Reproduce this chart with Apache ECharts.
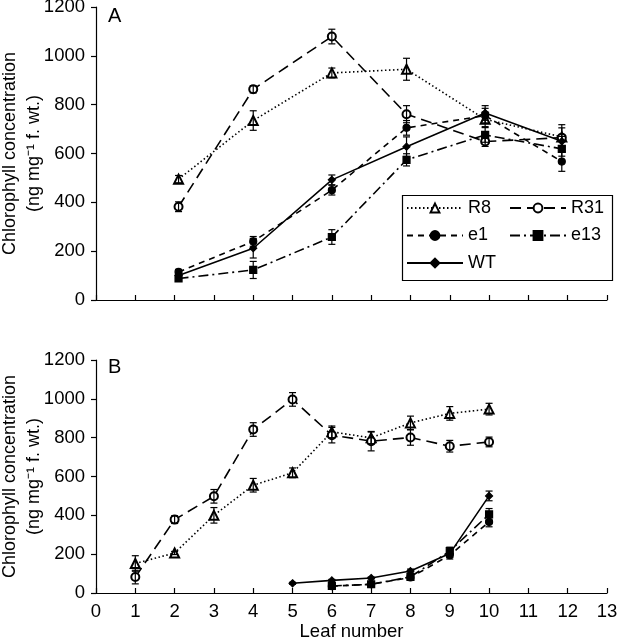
<!DOCTYPE html>
<html>
<head>
<meta charset="utf-8">
<script src="https://cdn.jsdelivr.net/npm/echarts@6/dist/echarts.min.js"></script>
<style>html,body{margin:0;padding:0;background:#fff;}#c{width:618px;height:639px;}</style>
</head>
<body>
<div id="c"></div>
<script>
// ---- Panel A data ----
var xA = [2.1, 4.0, 6.0, 7.9, 9.9, 11.85];
var aR8  = [495, 735, 930, 945, 740, 668];
var aR31 = [382, 863, 1079, 761, 649, 665];
var aE1  = [115, 240, 450, 705, 755, 567];
var aE13 = [88, 123, 258, 574, 676, 619];
var aWT  = [100, 212, 492, 628, 766, 650];
var aR8err  = [15, 40, 20, 45, 30, 50];
var aR31err = [20, 15, 30, 35, 20, 40];
var aE1err  = [10, 20, 20, 30, 30, 40];
var aE13err = [10, 35, 30, 25, 30, 30];
var aWTerr  = [10, 40, 20, 40, 30, 20];

// ---- Panel B data ----
var xB_R = [1, 2, 3, 4, 5, 6, 7, 8, 9, 10];
var bR8  = [152, 206, 400, 555, 619, 830, 799, 876, 925, 947];
var bR31 = [82, 378, 498, 842, 997, 813, 782, 801, 756, 778];
var bR8err  = [40, 8, 40, 35, 25, 30, 30, 35, 35, 30];
var bR31err = [35, 20, 35, 35, 35, 40, 50, 40, 30, 25];
var xB_WT = [5, 6, 7, 8, 9, 10];
var bWT  = [50, 65, 77, 113, 203, 500];
var bWTerr = [5, 5, 5, 10, 20, 25];
var xB_E = [6, 7, 8, 9, 10];
var bE13 = [36, 45, 83, 216, 405];
var bE1  = [35, 45, 80, 195, 366];
var bE13err = [10, 10, 10, 20, 30];
var bE1err  = [5, 5, 5, 20, 25];

var FONT = 'Liberation Sans, Arial, Helvetica, sans-serif';
var FS = 18.5;

function pairs(xs, ys){ return xs.map(function(x,i){ return [x, ys[i]]; }); }
function errs(xs, ys, es){ return xs.map(function(x,i){ return [x, ys[i]-es[i], ys[i]+es[i]]; }); }

var styles = {
  R8:  {dash:[1.5,2.5], symbol:'emptyTriangle', size:9},
  R31: {dash:[11,6], symbol:'emptyCircle', size:8},
  e1:  {dash:[6,5], symbol:'circle', size:7},
  e13: {dash:[10,4,2,4], symbol:'rect', size:7},
  WT:  {dash:'solid', symbol:'diamond', size:7}
};

function lineSeries(name, data, gi){
  var s = styles[name];
  return {
    type:'line', name:name, data:data, xAxisIndex:gi, yAxisIndex:gi,
    symbol:s.symbol, symbolSize:s.size, showAllSymbol:true,
    lineStyle:{color:'#000', width:1.6, type:s.dash},
    itemStyle:{color:'#000', borderColor:'#000', borderWidth:1.2},
    emphasis:{disabled:true}, animation:false, z:3
  };
}

function errSeries(data, gi){
  return {
    type:'custom', xAxisIndex:gi, yAxisIndex:gi, data:data, z:4, animation:false,
    silent:true,
    renderItem:function(params, api){
      var x = api.value(0), lo = api.value(1), hi = api.value(2);
      var p1 = api.coord([x, hi]), p2 = api.coord([x, lo]);
      var st = {stroke:'#000', lineWidth:1.2};
      return {type:'group', children:[
        {type:'line', shape:{x1:p1[0], y1:p1[1], x2:p2[0], y2:p2[1]}, style:st},
        {type:'line', shape:{x1:p1[0]-3.5, y1:p1[1], x2:p1[0]+3.5, y2:p1[1]}, style:st},
        {type:'line', shape:{x1:p2[0]-3.5, y1:p2[1], x2:p2[0]+3.5, y2:p2[1]}, style:st}
      ]};
    }
  };
}

function xAxis(gi, showLabels){
  return {
    type:'value', gridIndex:gi, min:0, max:13, interval:1,
    axisLine:{show:true, onZero:false, lineStyle:{color:'#000', width:1.2}},
    axisTick:{show:true, inside:true, length:5, lineStyle:{color:'#000', width:1.2}},
    axisLabel:{show:showLabels, color:'#000', fontSize:FS, fontFamily:FONT, margin:9},
    splitLine:{show:false},
    name: showLabels ? 'Leaf number' : '',
    nameLocation:'middle', nameGap:29, nameMoveOverlap:false,
    nameTextStyle:{color:'#000', fontSize:FS, fontFamily:FONT}
  };
}
function yAxis(gi){
  return {
    type:'value', gridIndex:gi, min:0, max:1200, interval:200,
    axisLine:{show:true, lineStyle:{color:'#000', width:1.2}},
    axisTick:{show:true, inside:false, length:5, lineStyle:{color:'#000', width:1.2}},
    axisLabel:{color:'#000', fontSize:FS, fontFamily:FONT, margin:11,
      formatter:function(v){ return String(v); }},
    splitLine:{show:false},
    name:'Chlorophyll concentration\n(ng mg\u207B\u00B9 f. wt.)',
    nameLocation:'middle', nameRotate:90, nameGap:50, nameMoveOverlap:false,
    nameTextStyle:{color:'#000', fontSize:18, fontFamily:FONT, lineHeight:24, align:'center'}
  };
}

var series = [
  lineSeries('R8', pairs(xA, aR8), 0),
  lineSeries('R31', pairs(xA, aR31), 0),
  lineSeries('e1', pairs(xA, aE1), 0),
  lineSeries('e13', pairs(xA, aE13), 0),
  lineSeries('WT', pairs(xA, aWT), 0),
  errSeries(errs(xA, aR8, aR8err), 0),
  errSeries(errs(xA, aR31, aR31err), 0),
  errSeries(errs(xA, aE1, aE1err), 0),
  errSeries(errs(xA, aE13, aE13err), 0),
  errSeries(errs(xA, aWT, aWTerr), 0),
  lineSeries('R8', pairs(xB_R, bR8), 1),
  lineSeries('R31', pairs(xB_R, bR31), 1),
  lineSeries('e1', pairs(xB_E, bE1), 1),
  lineSeries('e13', pairs(xB_E, bE13), 1),
  lineSeries('WT', pairs(xB_WT, bWT), 1),
  errSeries(errs(xB_R, bR8, bR8err), 1),
  errSeries(errs(xB_R, bR31, bR31err), 1),
  errSeries(errs(xB_E, bE1, bE1err), 1),
  errSeries(errs(xB_E, bE13, bE13err), 1),
  errSeries(errs(xB_WT, bWT, bWTerr), 1)
];

var legendCommon = {
  orient:'vertical', itemWidth:56, itemHeight:11, itemGap:9.5,
  textStyle:{color:'#000', fontSize:18, fontFamily:FONT},
  selectedMode:false, padding:0
};

var chart = echarts.init(document.getElementById('c'), null, {renderer:'canvas'});
chart.setOption({
  backgroundColor:'#fff',
  animation:false,
  grid:[
    {left:96, width:511, top:7, height:293, containLabel:false, outerBoundsMode:'none'},
    {left:96, width:511, top:360, height:233, containLabel:false, outerBoundsMode:'none'}
  ],
  xAxis:[xAxis(0,false), xAxis(1,true)],
  yAxis:[yAxis(0), yAxis(1)],
  legend:[
    Object.assign({}, legendCommon, {left:406, top:199, data:['R8','e1','WT']}),
    Object.assign({}, legendCommon, {left:509, top:199, data:['R31','e13']})
  ],
  graphic:[
    {type:'rect', left:400, top:193, shape:{width:210, height:85}, style:{fill:'none', stroke:'#000', lineWidth:1.2}, z:10},
    {type:'text', left:108, top:6, style:{text:'A', font:'20px ' + FONT, fill:'#000'}},
    {type:'text', left:108, top:357, style:{text:'B', font:'20px ' + FONT, fill:'#000'}}
  ],
  series:series
});
</script>
</body>
</html>
